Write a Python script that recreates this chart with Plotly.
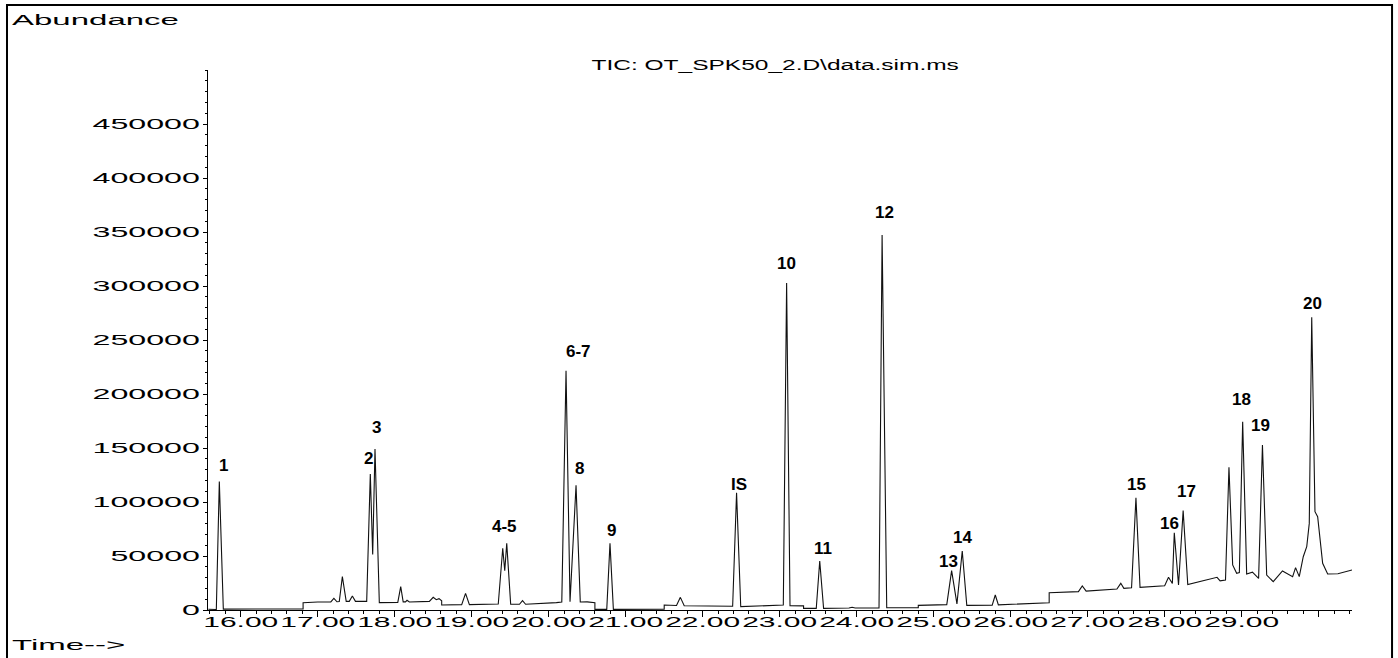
import json
import plotly.graph_objects as go

# Chromatogram: apex of every peak (retention time in min, abundance)
apex_t = [15.722, 17.21, 17.32, 17.45, 17.683, 17.744, 18.078, 18.16, 18.50, 18.575,
          18.92, 19.403, 19.455, 19.66, 20.225, 20.355, 20.796, 21.71, 22.44, 23.09,
          23.52, 23.94, 24.33, 25.233, 25.371, 25.80, 26.93, 27.43, 27.627, 28.05,
          28.125, 28.24, 28.835, 29.013, 29.14, 29.27, 29.53, 29.70, 29.91]
apex_a = [119000, 10800, 30900, 13000, 126000, 149000, 21600, 9000, 11700, 10500,
          15400, 57100, 61700, 8600, 221500, 115400, 61700, 11700, 108600, 302800,
          45400, 2500, 347200, 36400, 54600, 13900, 22200, 24700, 104000, 30300,
          71600, 92000, 132100, 174400, 35000, 152800, 36100, 39200, 271000]

# Baseline, valley and shoulder points of the trace (steps repeat the time)
base_t = [15.58, 15.683, 15.774, 16.81, 16.81, 17.0, 17.17, 17.25, 17.28, 17.37,
          17.41, 17.49, 17.636, 17.714, 17.80, 18.04, 18.11, 18.14, 18.19, 18.45,
          18.54, 18.61, 18.61, 18.87, 18.97, 19.345, 19.429, 19.506, 19.62, 19.70,
          20.10, 20.17, 20.277, 20.41, 20.50, 20.60, 20.60, 20.754, 20.84, 21.50,
          21.50, 21.66, 21.76, 22.389, 22.494, 23.047, 23.134, 23.31, 23.31, 23.475,
          23.57, 23.90, 23.98, 24.29, 24.39, 24.80, 24.80, 25.17, 25.302, 25.43,
          25.76, 25.84, 26.50, 26.50, 26.88, 26.98, 27.38, 27.47, 27.57, 27.68,
          28.00, 28.10, 28.18, 28.30, 28.68, 28.72, 28.79, 28.883, 28.935, 28.97,
          29.065, 29.22, 29.325, 29.41, 29.662, 29.748, 29.80, 29.845, 29.878, 29.952,
          29.987, 30.052, 30.117, 30.25, 30.433]
base_a = [700, 500, 800, 1000, 6800, 7400, 7500, 7600, 7800, 8000,
          8000, 8000, 8000, 51500, 6800, 7000, 7500, 7500, 7400, 8000,
          9500, 8500, 4600, 5000, 5000, 5600, 36400, 5300, 5300, 5300,
          6800, 7400, 7700, 7400, 7500, 6800, 600, 600, 600, 800,
          4600, 4200, 4000, 3500, 3100, 4600, 4000, 3800, 1500, 1500,
          1500, 1800, 1800, 1900, 2100, 2100, 4300, 5000, 5600, 4300,
          4500, 4800, 6700, 16000, 17000, 17500, 19500, 20000, 20500, 21000,
          22500, 24600, 23100, 23500, 30300, 27000, 27800, 41700, 34000, 34600,
          33300, 29300, 32400, 26200, 30900, 30900, 49300, 58600, 80200, 91000,
          86400, 43200, 33300, 33500, 37000]

# Compound labels and the apex each one marks
label_text = ["1", "2", "3", "4-5", "6-7", "8", "9", "IS", "10", "11",
              "12", "13", "14", "15", "16", "17", "18", "19", "20"]
label_rt = [15.722, 17.683, 17.744, 19.455, 20.225, 20.355, 20.796, 22.44, 23.09, 23.52,
            24.33, 25.233, 25.371, 27.627, 28.125, 28.24, 29.013, 29.27, 29.91]

# Axis ticks
x_ticks = list(range(16, 31))
x_ticktext = [f"{v:.2f}" for v in x_ticks[:-1]] + [""]
y_ticks = list(range(0, 450001, 50000))
y_ticktext = [str(v) for v in y_ticks]

# Label placement (pixel offsets from the apex)
label_shift = [(4, 16), (-2, 15), (1, 22), (-2, 17), (12, 19), (3, 17), (2, 13), (2, 8),
               (0, 19), (3, 12), (2, 23), (-3, 9), (0, 14), (1, 13), (-5, 9), (3, 19),
               (-1, 22), (-2, 19), (1, 14)]

FONT = "Liberation Sans"

pts = sorted(zip(base_t + apex_t, base_a + apex_a), key=lambda p: p[0])
trace_t = [p[0] for p in pts]
trace_a = [p[1] for p in pts]

fig = go.Figure()
fig.add_trace(go.Scatter(x=trace_t, y=trace_a, mode="lines",
                         line=dict(color="#111111", width=1.1),
                         hoverinfo="skip", showlegend=False))

annotations = [
    dict(text="Abundance", xref="paper", yref="paper", x=-0.1731, y=1.0944,
         xanchor="left", yanchor="middle", showarrow=False,
         font=dict(family=FONT, size=15, color="black")),
    dict(text="Time-->", xref="paper", yref="paper", x=-0.1731, y=-0.063,
         xanchor="left", yanchor="middle", showarrow=False,
         font=dict(family=FONT, size=15, color="black")),
    dict(text="TIC: OT_SPK50_2.D\\data.sim.ms", xref="paper", yref="paper",
         x=0.4965, y=1.0093, xanchor="center", yanchor="middle", showarrow=False,
         font=dict(family=FONT, size=15.5, color="black")),
]
for txt, rt, (dx, dy) in zip(label_text, label_rt, label_shift):
    a = apex_a[apex_t.index(rt)]
    annotations.append(dict(text=f"<b>{txt}</b>", x=rt, y=a, xref="x", yref="y",
                            xanchor="center", yanchor="middle", showarrow=False,
                            xshift=dx, yshift=dy,
                            font=dict(family=FONT, size=17, color="black")))

fig.update_layout(
    template="none",
    width=1398, height=658,
    margin=dict(l=208, r=46, t=70, b=48, pad=0),
    paper_bgcolor="white", plot_bgcolor="white",
    showlegend=False,
    annotations=annotations,
    shapes=[dict(type="rect", xref="paper", yref="paper",
                 x0=-0.1757, x1=1.035, y0=-0.17, y1=1.1204,
                 line=dict(color="black", width=2), fillcolor="rgba(0,0,0,0)")],
    xaxis=dict(range=[15.575, 30.433], showgrid=False, zeroline=False,
               showline=True, linecolor="black", linewidth=1,
               tickmode="array", tickvals=x_ticks, ticktext=x_ticktext,
               ticks="outside", ticklen=6, tickwidth=1, tickcolor="black",
               tickfont=dict(family=FONT, size=15, color="black"),
               minor=dict(tickmode="linear", tick0=16, dtick=0.2, ticks="outside",
                          ticklen=3, tickwidth=1, tickcolor="black", showgrid=False)),
    yaxis=dict(range=[0, 500000], showgrid=False, zeroline=False,
               showline=True, linecolor="black", linewidth=1,
               tickmode="array", tickvals=y_ticks, ticktext=y_ticktext,
               ticks="outside", ticklen=4, tickwidth=1, tickcolor="black",
               tickfont=dict(family=FONT, size=14, color="black"),
               minor=dict(tickmode="linear", tick0=0, dtick=10000, ticks="outside",
                          ticklen=2, tickwidth=1, tickcolor="black", showgrid=False)),
)

# Wide instrument-style lettering: stretch selected texts horizontally
# [scale, pivot, vertical nudge in px]
stretch = {
    "xtick": [2.0, "c", -8],
    "ytick": [2.3, "r", 0],
    "ann": {"0": [2.2, "l", 0], "1": [2.2, "l", 0], "2": [1.58, "c", 0]},
}
post = """
var gd = document.getElementById('{plot_id}');
var cfg = %s;
function widen(el, s, pivot, dy) {
  var b = el.getBBox();
  var px = pivot === 'l' ? b.x : (pivot === 'r' ? b.x + b.width : b.x + b.width / 2);
  var t = el.getAttribute('transform') || '';
  el.setAttribute('transform', t + ' translate(' + px + ',' + dy + ') scale(' + s + ',1) translate(' + (-px) + ',0)');
}
gd.querySelectorAll('.xtick text').forEach(function (e) { widen(e, cfg.xtick[0], cfg.xtick[1], cfg.xtick[2]); });
gd.querySelectorAll('.ytick text').forEach(function (e) { widen(e, cfg.ytick[0], cfg.ytick[1], cfg.ytick[2]); });
gd.querySelectorAll('g.annotation').forEach(function (g) {
  var k = g.getAttribute('data-index');
  if (cfg.ann[k]) {
    var t = g.querySelector('text');
    if (t) { widen(t, cfg.ann[k][0], cfg.ann[k][1], cfg.ann[k][2]); }
  }
});
""" % json.dumps(stretch)

fig.write_html("out.html", post_script=post, config={"displayModeBar": False})
